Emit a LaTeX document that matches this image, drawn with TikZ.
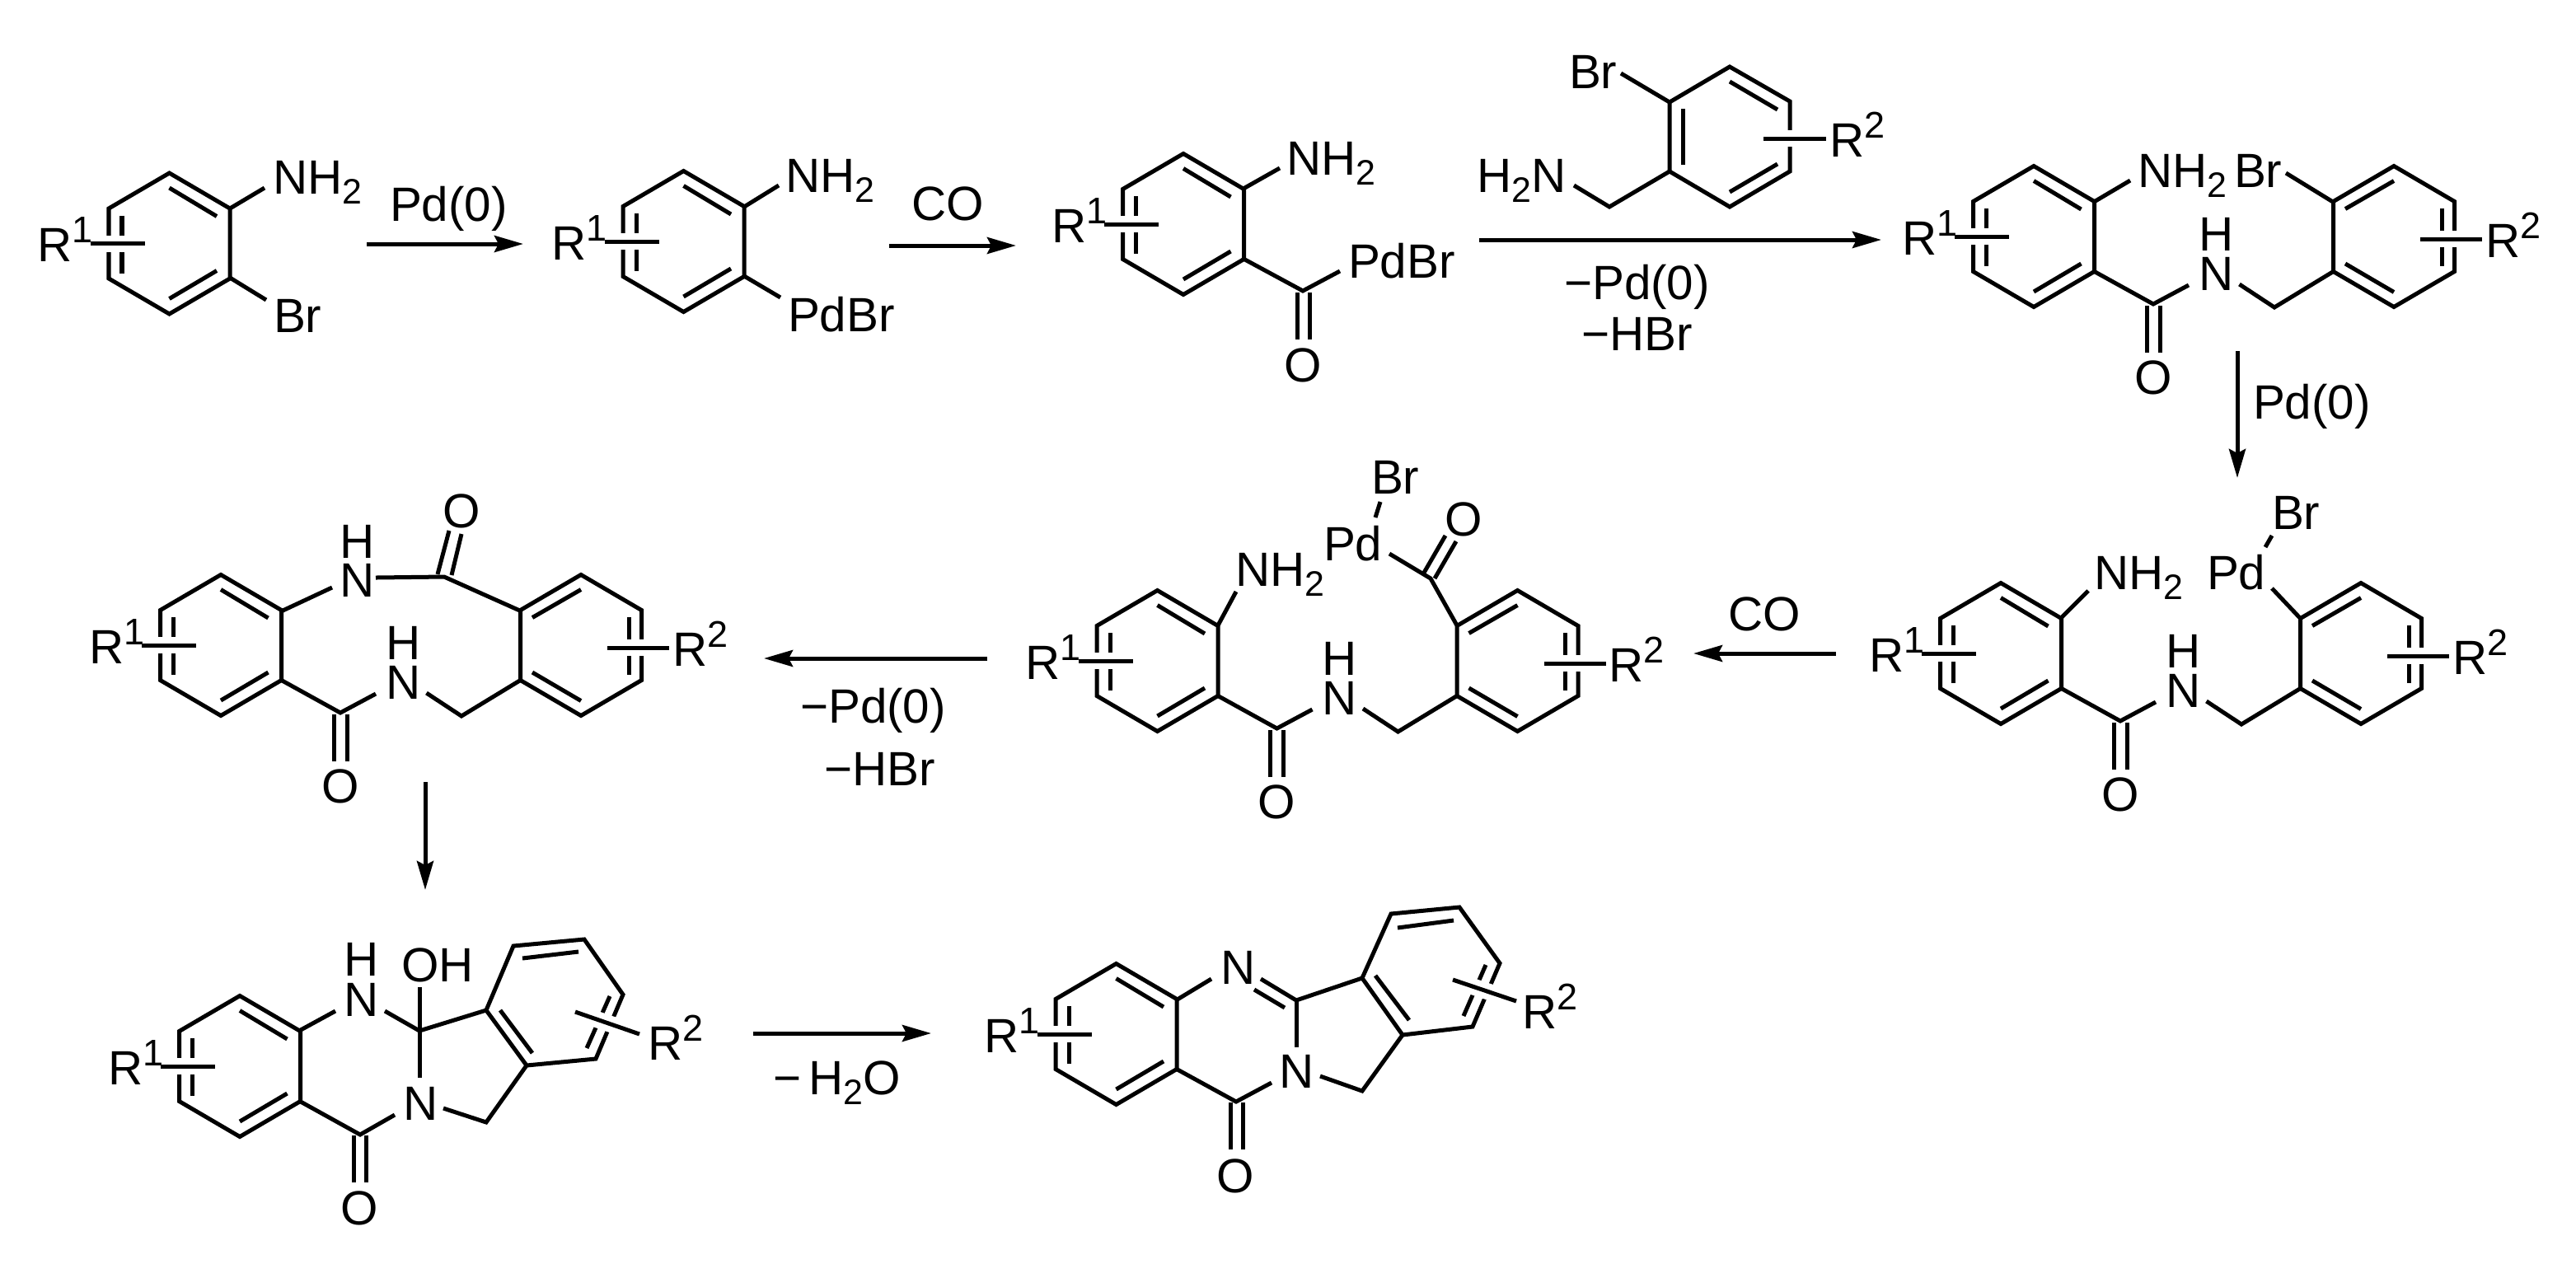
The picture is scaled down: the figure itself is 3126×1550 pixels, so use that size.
\documentclass[tikz,border=0pt]{standalone}
\usepackage{fontspec}
\setmainfont{Liberation Sans}
\usetikzlibrary{arrows.meta,calc}

\newcommand{\atomfont}{\fontsize{16.6pt}{20pt}\selectfont}
\newcommand{\rsup}[1]{\raisebox{.23cm}{\fontsize{12.8pt}{14pt}\selectfont #1}}
\newcommand{\rsub}[1]{\raisebox{-.12cm}{\fontsize{12.2pt}{14pt}\selectfont #1}}

\tikzset{
    atom/.style={inner sep=0pt, outer sep=0pt, anchor=base west, font=\atomfont},
    oxy/.style={inner sep=0pt, outer sep=0pt, anchor=base, font=\atomfont},
    subst/.style={preaction={draw=white, line width=.2cm}},
    rxn/.style={->, line width=.05cm},
}

\newcommand{\ringone}[3]{
    \begin{scope}[shift={(#2,#3)}]
        \draw (-73.5,-42.5) -- (0,-85.5) -- (73.5,-42.5) -- (73.5,42.5) -- (0,85.5) -- (-73.5,42.5) -- cycle;
        \draw (0,-67.5) -- (57.5,-33);
        \draw (57.5,33) -- (0,67);
        \draw (-57.5,-34) -- (-57.5,36);
        \draw[subst] (-96,0) -- (-30,0);
        \node[atom] (#1) at (-160,22) {R\rsup{1}};
    \end{scope}
}

\newcommand{\ringtwo}[3]{
    \begin{scope}[shift={(#2,#3)}]
        \draw (-73.5,-42.5) -- (0,-85.5) -- (73.5,-42.5) -- (73.5,42.5) -- (0,85.5) -- (-73.5,42.5) -- cycle;
        \draw (0,-67.5) -- (-59,-33.5);
        \draw (-59,33) -- (0,67.5);
        \draw (58,-34) -- (58,36);
        \draw[subst] (32,3) -- (107,3);
        \node[atom] (#1) at (111,25) {R\rsup{2}};
    \end{scope}
}

\newcommand{\amide}[3]{
    \ringone{#1r}{#2}{#3}
    \begin{scope}[shift={(#2,#3)}]
        \draw (73.5,42.5) -- (145,82) -- (188,59);
        \draw (137,84) -- (137,141);
        \draw (153,84) -- (153,141);
        \draw (249.5,58) -- (292,86) -- (363.5,42.5);
        \node[atom] (#1n) at (200,65) {N};
        \node[atom] (#1h) at (200,17) {H};
        \node[oxy] (#1o) at (145,191) {O};
        \ringtwo{#1s}{437}{0}
    \end{scope}
}

\begin{document}
\begin{tikzpicture}[x=.01cm, y=-.01cm, line width=.05cm, >={Stealth[length=.35cm, width=.2cm, inset=.05cm]}]
        \useasboundingbox (0,0) rectangle (3126,1550);

        \ringone{ar}{205.5}{295.5}
        \draw (279,253) -- (321,228);
        \draw (279,337) -- (323,364);
        \node[atom] (an) at (331,235) {NH\rsub{2}};
        \node[atom] (ab) at (332,403) {Br};

        \coordinate (b1s) at (445,296);
        \coordinate (b1e) at (635,296);
        \draw[rxn] (b1s) -- (b1e);
        \node[atom] (b1t) at (473,268) {Pd(0)};

        \ringone{cr}{829.5}{293}
        \draw (903,251) -- (945,225);
        \draw (903,335) -- (947,361);
        \node[atom] (cn) at (953,233) {NH\rsub{2}};
        \node[atom] (cp) at (956,402) {PdBr};

        \coordinate (b2s) at (1079,298);
        \coordinate (b2e) at (1233,298);
        \draw[rxn] (b2s) -- (b2e);
        \node[atom] (b2t) at (1106,267) {CO};

        \ringone{er}{1436}{272}
        \draw (1507,230) -- (1553,204);
        \draw (1507,313) -- (1581,353) -- (1626,329);
        \draw (1574,355) -- (1574,412);
        \draw (1589,355) -- (1589,412);
        \node[atom] (en) at (1561,212) {NH\rsub{2}};
        \node[atom] (ep) at (1636,337) {PdBr};
        \node[oxy] (eo) at (1581,463) {O};

        \draw (2026,124) -- (2099,81) -- (2172,123) -- (2172,208) -- (2099,251) -- (2026,208) -- cycle;
        \draw (2099,99) -- (2157,133);
        \draw (2157,199) -- (2099,233);
        \draw (2042,132) -- (2042,200);
        \draw[subst] (2140,168) -- (2216,168);
        \draw (1967,89) -- (2026,124);
        \draw (1910,225) -- (1953,251) -- (2026,208);
        \node[atom] (fb) at (1904,107) {Br};
        \node[atom] (fn) at (1792,233) {H\rsub{2}N};
        \node[atom] (fr) at (2220,190) {R\rsup{2}};

        \coordinate (b3s) at (1795,291);
        \coordinate (b3e) at (2283,291);
        \draw[rxn] (b3s) -- (b3e);
        \node[atom] (b3t) at (1898,363) {−Pd(0)};
        \node[atom] (b3u) at (1919,425) {−HBr};

        \amide{g}{2468}{287}
        \draw (2541,245) -- (2585,219);
        \draw (2774,210) -- (2831,245);
        \node[atom] (gb) at (2594,227) {NH\rsub{2}};
        \node[atom] (gc) at (2711,227) {Br};

        \coordinate (b4s) at (2715,426);
        \coordinate (b4e) at (2715,580);
        \draw[rxn] (b4s) -- (b4e);
        \node[atom] (b4t) at (2734,508) {Pd(0)};

        \amide{k}{2428}{793}
        \draw (2500,751) -- (2534,717);
        \draw (2749,664) -- (2757,650);
        \draw (2757,714) -- (2792,751);
        \node[atom] (kb) at (2541,715) {NH\rsub{2}};
        \node[atom] (kp) at (2678,715) {Pd};
        \node[atom] (kc) at (2757,642) {Br};

        \coordinate (b5s) at (2228,793);
        \coordinate (b5e) at (2055,793);
        \draw[rxn] (b5s) -- (b5e);
        \node[atom] (b5t) at (2097,765) {CO};

        \amide{m}{1404.5}{802}
        \draw (1478,759) -- (1500,718);
        \draw (1768,759) -- (1736,702) -- (1686,672);
        \draw (1669,628) -- (1675,609);
        \draw (1728,695) -- (1754,650);
        \draw (1741,702) -- (1767,657);
        \node[atom] (mb) at (1499,711) {NH\rsub{2}};
        \node[atom] (mp) at (1606,680) {Pd};
        \node[atom] (mc) at (1664,599) {Br};
        \node[oxy] (md) at (1776,650) {O};

        \coordinate (b6s) at (1198,799);
        \coordinate (b6e) at (927,799);
        \draw[rxn] (b6s) -- (b6e);
        \node[atom] (b6t) at (971,877) {−Pd(0)};
        \node[atom] (b6u) at (1000,953) {−HBr};

        \amide{p}{268}{783}
        \draw (341,742) -- (403,713);
        \draw (456,701) -- (539,700) -- (633,742);
        \draw (531,697) -- (545,644);
        \draw (548,698) -- (560,648);
        \node[atom] (pb) at (412,724) {N};
        \node[atom] (pc) at (412,677) {H};
        \node[oxy] (pd) at (560,640) {O};

        \coordinate (b7s) at (516,949);
        \coordinate (b7e) at (516,1080);
        \draw[rxn] (b7s) -- (b7e);

        \ringone{qr}{291}{1294}
        \draw (363,1251) -- (407,1227);
        \draw (467,1227) -- (509,1251) -- (590,1226);
        \draw (509,1198) -- (509,1308);
        \draw (363,1336) -- (437,1377) -- (479,1353);
        \draw (429,1378) -- (429,1435);
        \draw (444,1378) -- (444,1435);
        \draw (538,1345) -- (590,1362) -- (639,1293);
        \draw (590,1226) -- (623,1148) -- (709,1140) -- (756,1207) -- (723,1285) -- (639,1293) -- cycle;
        \draw (634,1163) -- (702,1155);
        \draw (740,1209) -- (712,1272);
        \draw (607,1226) -- (646,1278);
        \draw[subst] (698,1228) -- (776,1255);
        \node[atom] (qn) at (417,1233) {N};
        \node[atom] (qh) at (417,1184) {H};
        \node[atom] (qo) at (487,1191) {OH};
        \node[atom] (qm) at (489,1359) {N};
        \node[oxy] (qd) at (436,1486) {O};
        \node[atom] (qs) at (786,1286) {R\rsup{2}};

        \coordinate (b8s) at (914,1254);
        \coordinate (b8e) at (1130,1254);
        \draw[rxn] (b8s) -- (b8e);
        \node[atom] (b8t) at (938,1328) {−\,H\rsub{2}O};

        \ringone{tr}{1354.5}{1255}
        \draw (1427,1214) -- (1470,1188);
        \draw (1530,1188) -- (1573,1214) -- (1653,1187);
        \draw (1522,1201) -- (1559,1223);
        \draw (1573,1214) -- (1573,1271);
        \draw (1427,1297) -- (1500,1337) -- (1543,1314);
        \draw (1493,1338) -- (1493,1395);
        \draw (1508,1338) -- (1508,1395);
        \draw (1602,1306) -- (1653,1324) -- (1702,1256);
        \draw (1653,1187) -- (1688,1109) -- (1771,1101) -- (1820,1169) -- (1787,1246) -- (1702,1256) -- cycle;
        \draw (1696,1126) -- (1764,1117);
        \draw (1803,1171) -- (1776,1233);
        \draw (1669,1184) -- (1710,1238);
        \draw[subst] (1763,1189) -- (1840,1215);
        \node[atom] (tn) at (1481,1194) {N};
        \node[atom] (tm) at (1552,1320) {N};
        \node[oxy] (to) at (1499,1447) {O};
        \node[atom] (ts) at (1847,1248) {R\rsup{2}};
\end{tikzpicture}
\end{document}
